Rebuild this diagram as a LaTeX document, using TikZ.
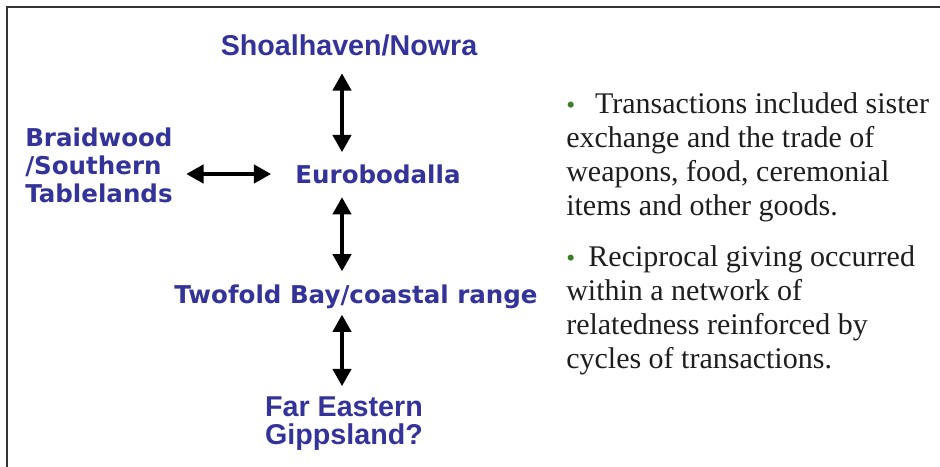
\documentclass[tikz,border=0pt]{standalone}
\usepackage{fontspec}
\setmainfont{Liberation Serif}
\newfontfamily\placefont{Liberation Sans}
\newfontfamily\widefont{DejaVu Sans}
\usepackage{xcolor}
\usetikzlibrary{arrows.meta}

\definecolor{placeblue}{RGB}{51,51,153}
\definecolor{bulletgreen}{RGB}{60,125,40}
\definecolor{bodytext}{RGB}{30,30,30}

\begin{document}
\begin{tikzpicture}[x=0.75pt, y=-0.75pt,
  narrow/.style={text=placeblue, inner sep=0pt, align=center,
    font=\placefont\bfseries\fontsize{21.5}{21}\selectfont},
  wide/.style={text=placeblue, inner sep=0pt,
    font=\widefont\bfseries\fontsize{18.4}{21}\selectfont},
  twoway/.style={line width=3.6pt,
    {Triangle[width=13.5pt,length=13pt]}-{Triangle[width=13.5pt,length=13pt]}},
  bullettext/.style={text=bodytext, inner sep=0pt, align=left, anchor=north west,
    font=\fontsize{22.5}{25.5}\selectfont}]
\useasboundingbox (0,0) rectangle (940,467);

% frame
\draw[gray!40!black, line width=1.5pt] (7,467)--(7,7)--(940,7);

\node[narrow] (shoal) at (349,45){Shoalhaven/Nowra};
\node[wide] (euro) at (378,174){Eurobodalla};
\node[wide, align=left, anchor=west] (braid) at (25,165){Braidwood\\/Southern\\Tablelands};
\node[wide] (twofold) at (356,297){Twofold Bay/coastal range};
\node[narrow] (fareast) at (344,424){Far Eastern\\Gippsland?};

\coordinate (ax) at (342,0);

\draw[twoway, shorten <=13pt, shorten >=9pt] (shoal.south -| ax) -- (euro.north -| ax);
\draw[twoway, shorten <=10pt, shorten >=10pt] (euro.south -| ax) -- (twofold.north -| ax);
\draw[twoway, shorten <=4pt, shorten >=8pt] (twofold.south -| ax) -- (fareast.north -| ax);
\draw[twoway, shorten <=10pt, shorten >=18pt] (braid.east |- euro.center) -- (euro.west);

\node[bullettext] (trade) at (566,92){{\color{bulletgreen}\fontsize{19}{16}\selectfont\textbullet}\hspace{15pt}Transactions included sister\\
exchange and the trade of\\
weapons, food, ceremonial\\
items and other goods.};
\node[bullettext] (recip) at (566,245){{\color{bulletgreen}\fontsize{19}{16}\selectfont\textbullet}\hspace{10pt}Reciprocal giving occurred\\
within a network of\\
relatedness reinforced by\\
cycles of transactions.};
\end{tikzpicture}
\end{document}
